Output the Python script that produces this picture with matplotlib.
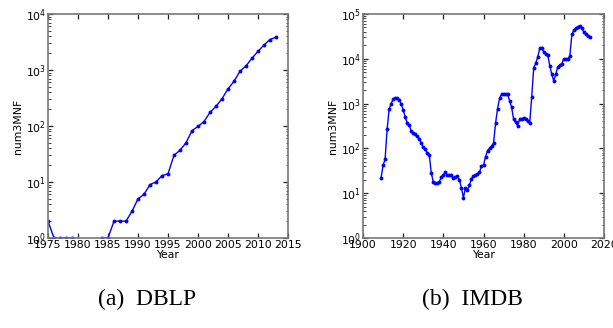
"""
Growth of num3MNF over the years for DBLP and IMDB (log scale).
"""

from __future__ import annotations

import matplotlib

matplotlib.use("Agg")
import matplotlib.pyplot as plt
import numpy as np

# DBLP: one value per year, 1975-2013 (0 = no motif that year, not drawn on log axis)
DBLP_YEARS = list(range(1975, 2014))
DBLP_COUNTS = [
    2, 1, 1, 1, 1, 0, 0, 0, 0, 1,
    1, 2, 2, 2, 3, 5, 6, 9, 10, 13,
    14, 30, 37, 50, 83, 98, 120, 175, 225, 307,
    460, 630, 950, 1180, 1630, 2150, 2800, 3500, 3850,
]

# IMDB: one value per year, 1909-2013
IMDB_YEARS = list(range(1909, 2014))
IMDB_COUNTS = [
    22, 42, 57, 265, 740, 1000, 1250, 1300, 1300, 1200,
    1000, 720, 510, 365, 330, 240, 220, 205, 190, 165,
    130, 105, 95, 80, 72, 28, 18, 17, 17, 18,
    23, 25, 29, 25, 25, 26, 22, 23, 24, 20,
    13, 8, 13, 12, 15, 21, 24, 25, 27, 29,
    41, 42, 65, 89, 100, 113, 130, 365, 770, 1300,
    1630, 1650, 1650, 1600, 1150, 830, 445, 380, 320, 450,
    460, 480, 450, 410, 360, 1420, 6300, 7900, 11000, 17000,
    17000, 14400, 13000, 12000, 7000, 4500, 3200, 4600, 6600, 7200,
    7800, 10000, 10000, 9700, 11700, 35000, 44000, 48000, 51000, 55000,
    48000, 39000, 35000, 32000, 30000,
]

DBLP_XTICKS = list(range(1975, 2016, 5))
IMDB_XTICKS = list(range(1900, 2021, 20))

LINE_COLOR = "#0000ff"
SPINE_COLOR = "#777777"


def _style_panel(ax: plt.Axes, xticks: list[int], ymax: float) -> None:
    ax.set_yscale("log", nonpositive="mask")
    ax.set_xlim(xticks[0], xticks[-1])
    ax.set_ylim(1, ymax)
    ax.set_xticks(xticks)
    ax.set_xlabel("Year", fontsize=7.8, labelpad=0)
    ax.set_ylabel("num3MNF", fontsize=7.8, labelpad=2)
    ax.tick_params(
        which="both", direction="in", top=True, right=True,
        labelsize=7.8, color="#222222", pad=1.5,
    )
    ax.tick_params(which="major", length=3.5, width=0.9)
    ax.tick_params(which="minor", length=1.8, width=0.6)
    for spine in ax.spines.values():
        spine.set_color(SPINE_COLOR)
        spine.set_linewidth(1.2)


def main() -> None:
    fig = plt.figure(figsize=(6.13, 3.28), dpi=100)
    ax_a = fig.add_axes([48 / 613, 90 / 328, 240 / 613, 224 / 328])
    ax_b = fig.add_axes([363 / 613, 90 / 328, 241 / 613, 224 / 328])

    for ax, years, counts, xticks, ymax in [
        (ax_a, DBLP_YEARS, DBLP_COUNTS, DBLP_XTICKS, 1e4),
        (ax_b, IMDB_YEARS, IMDB_COUNTS, IMDB_XTICKS, 1e5),
    ]:
        y = np.asarray(counts, dtype=float)
        y[y <= 0] = np.nan
        ax.plot(years, y, "-o", color=LINE_COLOR, lw=1.0, ms=2.8, mew=0)
        _style_panel(ax, xticks, ymax)

    cap = dict(ha="center", va="center", fontsize=17, family="Liberation Serif")
    fig.text(147 / 613, 1 - 299 / 328, "(a)  DBLP", **cap)
    fig.text(472 / 613, 1 - 299 / 328, "(b)  IMDB", **cap)

    fig.savefig("out.png", dpi=100)
    plt.close(fig)


if __name__ == "__main__":
    main()
